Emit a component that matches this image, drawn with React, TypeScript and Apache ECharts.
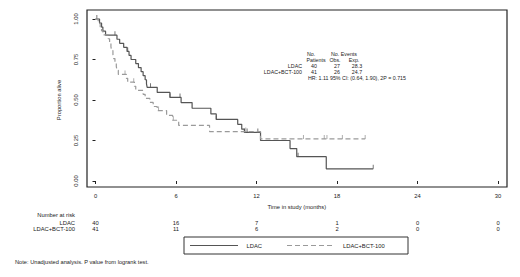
import React, { useEffect, useRef } from "react";
import * as echarts from "echarts";

// ---- Data ----
const seriesNames = ["LDAC", "LDAC+BCT-100"];

// Kaplan-Meier step points [months, proportion alive]
const ldacCurve: [number, number][] = [
  [0, 1.0], [0.3, 0.975], [0.45, 0.95], [0.55, 0.925], [0.75, 0.9],
  [1.6, 0.875], [1.8, 0.85], [2.1, 0.825], [2.35, 0.8], [2.5, 0.775],
  [2.65, 0.75], [3.0, 0.725], [3.2, 0.7], [3.4, 0.675], [3.55, 0.65],
  [3.7, 0.625], [3.8, 0.6], [3.85, 0.578], [4.6, 0.547], [5.55, 0.516],
  [6.38, 0.484], [7.2, 0.449], [8.6, 0.414], [9.0, 0.38], [10.6, 0.35],
  [10.9, 0.32], [11.1, 0.3], [12.3, 0.25], [14.5, 0.2], [15.0, 0.15],
  [17.2, 0.075], [20.7, 0.075],
];
const bctCurve: [number, number][] = [
  [0, 1.0], [0.2, 0.976], [0.35, 0.951], [0.45, 0.927], [0.55, 0.902],
  [0.95, 0.878], [1.05, 0.854], [1.15, 0.829], [1.2, 0.805], [1.3, 0.78],
  [1.35, 0.756], [1.45, 0.732], [1.55, 0.707], [1.6, 0.683], [1.7, 0.658],
  [2.3, 0.634], [2.4, 0.61], [2.9, 0.585], [3.0, 0.56], [3.55, 0.535],
  [3.7, 0.51], [4.05, 0.485], [4.3, 0.46], [4.6, 0.435], [5.3, 0.405],
  [5.75, 0.375], [6.2, 0.343], [8.5, 0.305], [12.3, 0.26], [20.1, 0.26],
];
// censoring times (tick marks)
const ldacCensor = [0.1, 0.45, 1.45, 2.4, 4.1, 5.55, 6.3, 9.0, 11.1, 11.3, 12.1, 15.1, 20.7];
const bctCensor = [2.2, 2.85, 4.7, 5.8, 11.2, 15.5, 17.05, 17.25, 18.4, 20.1];

// Number at risk
const atRiskTimes = [0, 6, 12, 18, 24, 30];
const atRiskLdac = [40, 16, 7, 1, 0, 0];
const atRiskBct = [41, 11, 6, 2, 0, 0];

// Summary table
const tableHead1 = ["No.", "No. Events"];
const tableHead2 = ["Patients", "Obs.", "Exp."];
const tablePatients = [40, 41];
const tableObs = [27, 26];
const tableExp = ["28.3", "24.7"];
const hrText = "HR: 1.11 95% CI: (0.64, 1.90), 2P = 0.715";
const noteText = "Note: Unadjusted analysis. P value from logrank test.";

const FONT = "Liberation Sans, Arial, sans-serif";
const TXT = "#222";
const SOLID = "#555";
const DASH = "#9a9a9a";

function survAt(curve: [number, number][], t: number): number {
  let s = curve[0][1];
  for (const [x, y] of curve) {
    if (x <= t) s = y;
  }
  return s;
}

export default function App() {
  const ref = useRef<HTMLDivElement>(null);
  useEffect(() => {
    if (!ref.current) return;
    const chart = echarts.init(ref.current, undefined, { renderer: "svg" });

    const gridLeft = 95.5;
    const gridWidth = 402.5;

    const tText = (text: string, x: number, y: number, align: string, size = 5.3) => ({
      type: "text",
      x,
      y,
      style: { text, fill: TXT, font: `${size}px ${FONT}`, align, verticalAlign: "middle" },
    });

    const rowY = [54, 60, 66, 72, 78];
    const legendY = 245.5;
    const graphics: any[] = [
      {
        type: "rect",
        shape: { x: 87, y: 10, width: 420, height: 177 },
        style: { fill: "none", stroke: "#222", lineWidth: 1.2 },
      },
      tText(tableHead1[0], 311, rowY[0], "center"),
      tText(tableHead1[1], 344, rowY[0], "center"),
      tText(tableHead2[0], 316, rowY[1], "center"),
      tText(tableHead2[1], 335, rowY[1], "center"),
      tText(tableHead2[2], 354, rowY[1], "center"),
      ...seriesNames.flatMap((n, i) => [
        tText(n, 302, rowY[2 + i], "right"),
        tText(String(tablePatients[i]), 314, rowY[2 + i], "center"),
        tText(String(tableObs[i]), 337, rowY[2 + i], "center"),
        tText(tableExp[i], 357, rowY[2 + i], "center"),
      ]),
      tText(hrText, 308, rowY[4], "left"),
      tText("Number at risk", 75, 215, "right", 5.8),
      tText(noteText, 15, 262, "left", 5.7),
      // legend
      {
        type: "rect",
        shape: { x: 184, y: 237, width: 224, height: 17 },
        style: { fill: "none", stroke: "#333", lineWidth: 1 },
      },
      {
        type: "line",
        shape: { x1: 190, y1: legendY, x2: 238, y2: legendY },
        style: { stroke: SOLID, lineWidth: 1.2 },
      },
      tText(seriesNames[0], 246.5, legendY, "left", 5.8),
      {
        type: "line",
        shape: { x1: 287, y1: legendY, x2: 334, y2: legendY },
        style: { stroke: DASH, lineWidth: 1.2, lineDash: [5, 3] },
      },
      tText(seriesNames[1], 343, legendY, "left", 5.8),
    ];

    const axisLabelStyle = { color: TXT, fontSize: 5.8, fontFamily: FONT };

    chart.setOption({
      animation: false,
      backgroundColor: "#fff",
      grid: [
        { left: gridLeft, top: 19, width: gridWidth, height: 162 },
        { left: gridLeft, top: 219.4, width: gridWidth, height: 13.2 },
      ],
      xAxis: [
        {
          type: "value",
          gridIndex: 0,
          min: 0,
          max: 30,
          interval: 6,
          offset: 6,
          axisLine: { show: false },
          axisTick: { show: true, length: 3, lineStyle: { color: "#222", width: 1 } },
          axisLabel: { ...axisLabelStyle, margin: 6 },
          splitLine: { show: false },
          name: "Time in study (months)",
          nameLocation: "middle",
          nameGap: 17,
          nameTextStyle: axisLabelStyle,
        },
        {
          type: "value",
          gridIndex: 1,
          min: 0,
          max: 30,
          show: false,
        },
      ],
      yAxis: [
        {
          type: "value",
          gridIndex: 0,
          min: 0,
          max: 1,
          interval: 0.25,
          offset: 8.5,
          axisLine: { show: false },
          axisTick: { show: true, length: 3, lineStyle: { color: "#222", width: 1 } },
          axisLabel: {
            ...axisLabelStyle,
            rotate: 90,
            margin: 8,
            align: "center",
            verticalAlign: "bottom",
            formatter: (v: number) => v.toFixed(2),
          },
          splitLine: { show: false },
          name: "Proportion alive",
          nameLocation: "middle",
          nameRotate: 90,
          nameGap: 25,
          nameTextStyle: axisLabelStyle,
        },
        {
          type: "category",
          gridIndex: 1,
          data: seriesNames,
          inverse: true,
          axisLine: { show: false },
          axisTick: { show: false },
          axisLabel: { ...axisLabelStyle, margin: 20.5, interval: 0 },
        },
      ],
      series: [
        {
          name: seriesNames[0],
          type: "line",
          step: "end",
          xAxisIndex: 0,
          yAxisIndex: 0,
          symbol: "none",
          clip: false,
          data: ldacCurve,
          itemStyle: { color: SOLID },
          lineStyle: { color: SOLID, width: 1.2, type: "solid" },
        },
        {
          name: seriesNames[1],
          type: "line",
          step: "end",
          xAxisIndex: 0,
          yAxisIndex: 0,
          symbol: "none",
          clip: false,
          data: bctCurve,
          itemStyle: { color: DASH },
          lineStyle: { color: DASH, width: 1.2, type: [5, 3] },
        },
        {
          name: "LDAC censored",
          type: "scatter",
          xAxisIndex: 0,
          yAxisIndex: 0,
          symbol: "rect",
          symbolSize: [1, 4],
          symbolOffset: [0, -2],
          itemStyle: { color: SOLID },
          data: ldacCensor.map((t) => [t, survAt(ldacCurve, t)]),
        },
        {
          name: "BCT censored",
          type: "scatter",
          xAxisIndex: 0,
          yAxisIndex: 0,
          symbol: "rect",
          symbolSize: [1, 4],
          symbolOffset: [0, -2],
          itemStyle: { color: DASH },
          data: bctCensor.map((t) => [t, survAt(bctCurve, t)]),
        },
      ],
    });

    // Number-at-risk values placed through the library's own scales
    const riskRows = [atRiskLdac, atRiskBct];
    const riskTexts: any[] = [];
    riskRows.forEach((row, r) => {
      atRiskTimes.forEach((t, i) => {
        const p = chart.convertToPixel({ xAxisIndex: 1, yAxisIndex: 1 }, [t, r]) as number[];
        if (p) riskTexts.push(tText(String(row[i]), p[0], p[1], "center", 5.8));
      });
    });

    chart.setOption({ graphic: [...graphics, ...riskTexts] });
    return () => chart.dispose();
  }, []);
  return (
    <div
      ref={ref}
      style={{ position: "absolute", left: 0, top: 0, width: 520, height: 277, background: "#fff" }}
    />
  );
}
